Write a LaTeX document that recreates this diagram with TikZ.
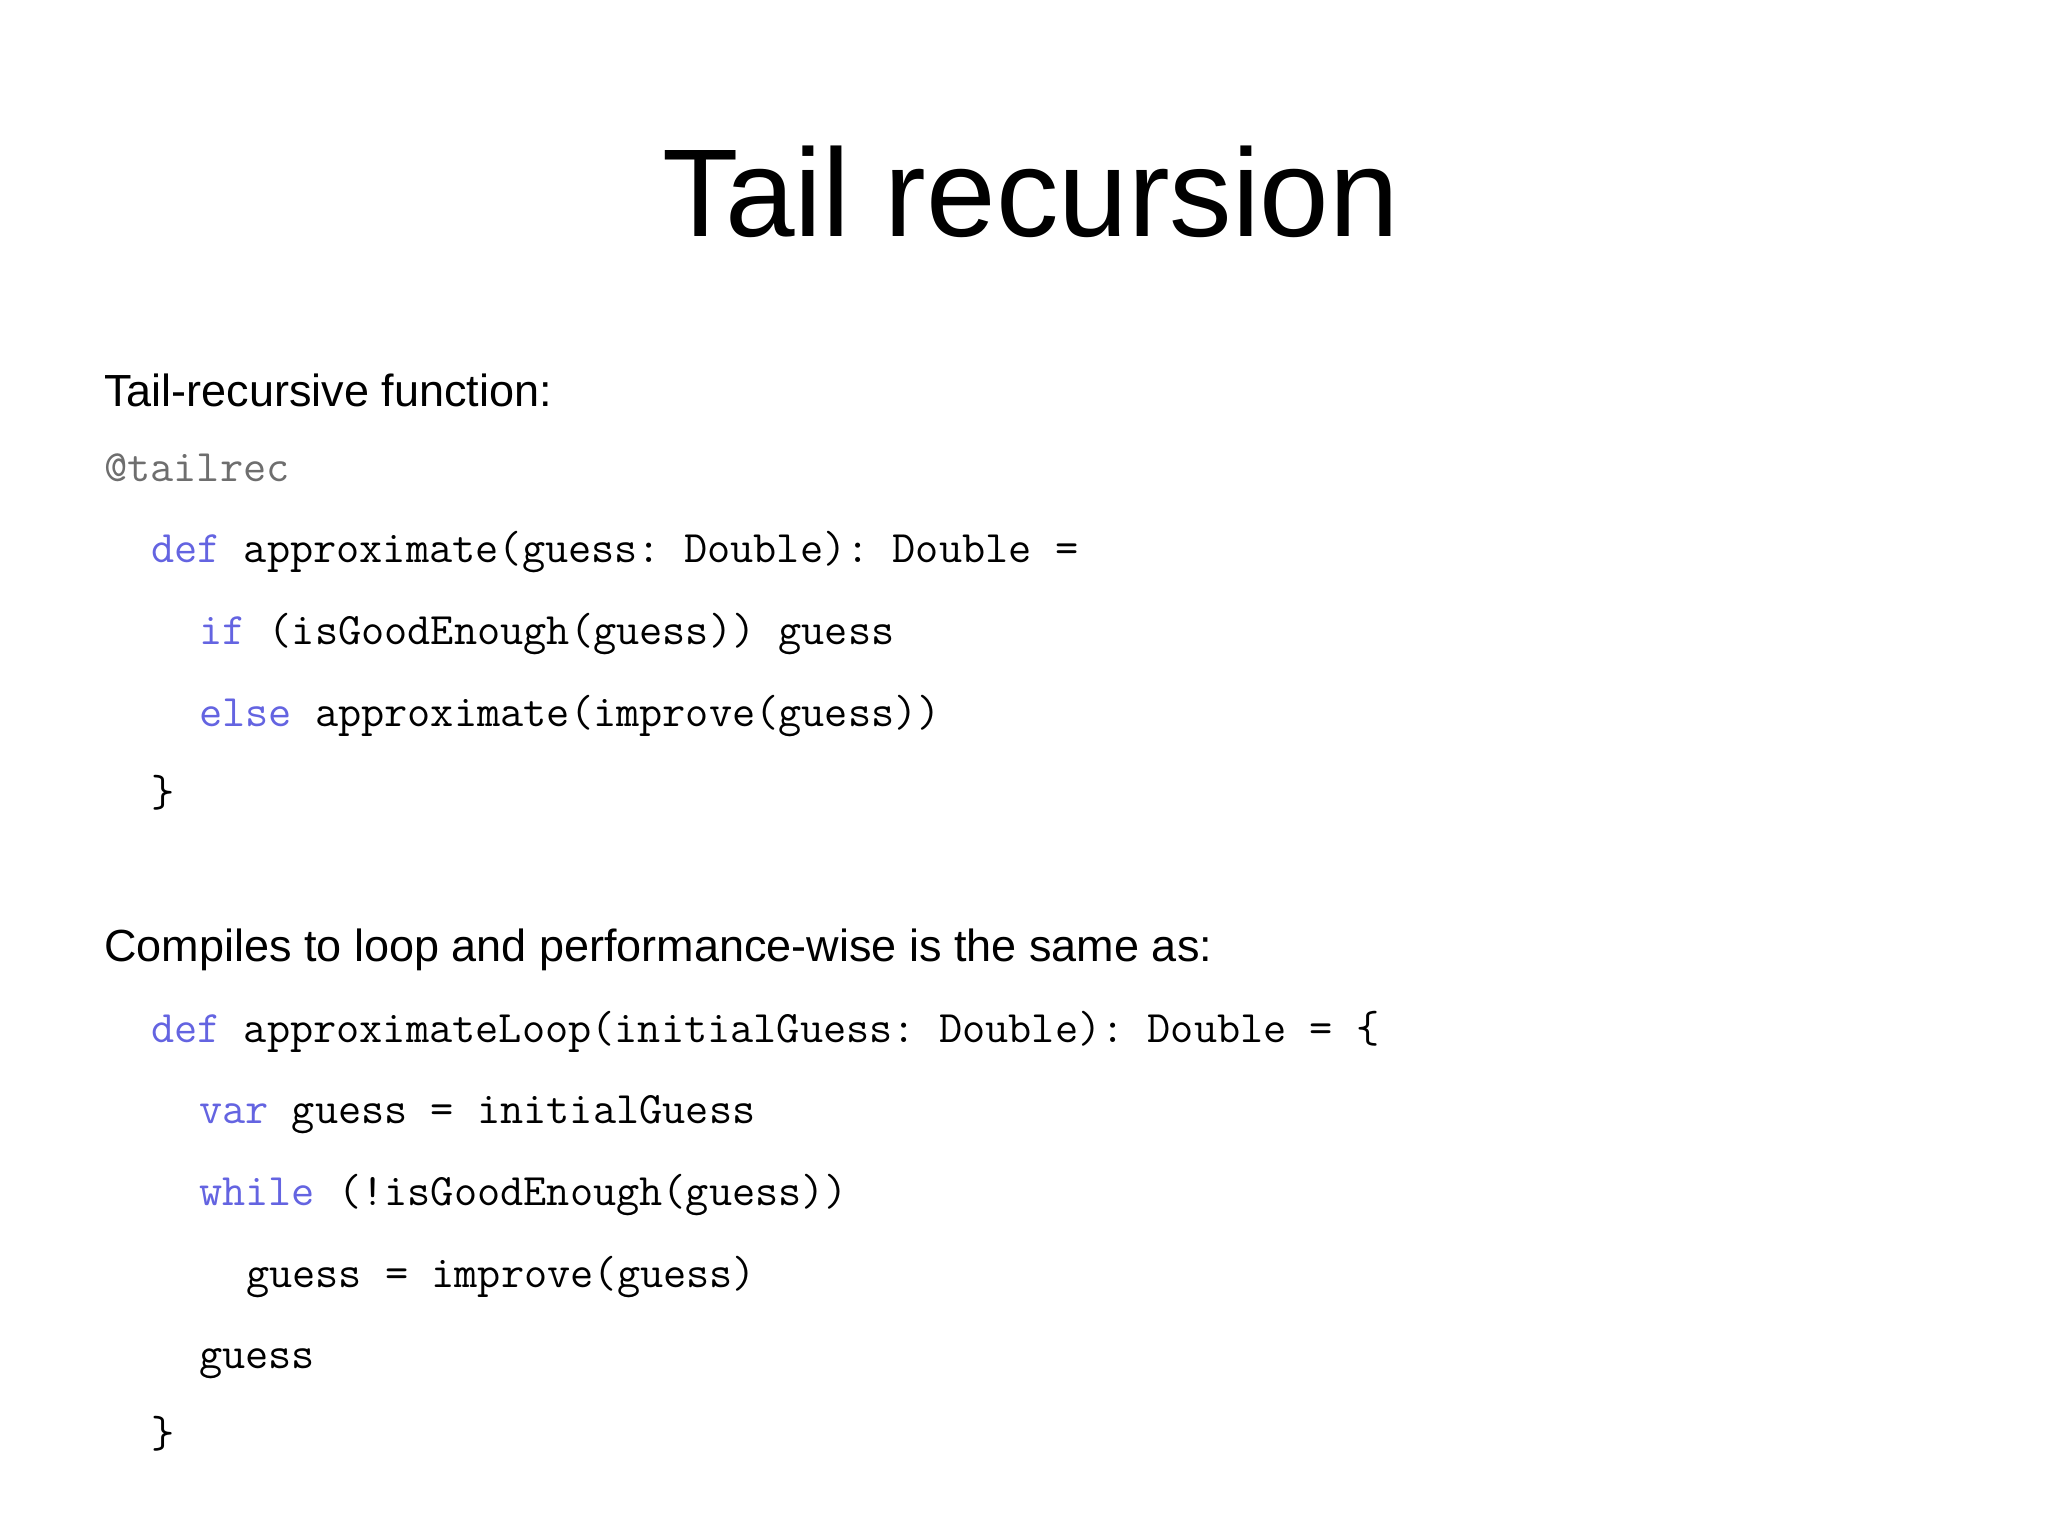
\documentclass[tikz,border=0pt]{standalone}
\usepackage{fontspec}
\setmainfont{Liberation Sans}
\setmonofont{Latin Modern Mono}
\definecolor{kw}{RGB}{100,100,225}
\definecolor{ann}{RGB}{110,110,110}
\begin{document}
\begin{tikzpicture}[x=1pt,y=-1pt,
  txt/.style={anchor=base west,inner sep=0,font=\fontsize{45}{54}\selectfont},
  code/.style={anchor=base west,inner sep=0,font=\fontsize{45}{54}\ttfamily}]
\useasboundingbox (0,0) rectangle (2048,1535);
\node[anchor=base,inner sep=0,font=\fontsize{125}{150}\selectfont] (title) at (1031,236) {Tail recursion};
\newcommand\kwd[1]{\textcolor{kw}{#1}}
\node[txt] (t1) at (104,406) {Tail-recursive function:};
\node[code,text=ann] (c1) at (104,481) {@tailrec};
\node[code] (c2) at (151,562) {\kwd{def} approximate(guess: Double): Double =};
\node[code] (c3) at (199,644) {\kwd{if} (isGoodEnough(guess)) guess};
\node[code] (c4) at (199,726) {\kwd{else} approximate(improve(guess))};
\node[code] (c5) at (151,806) {\}};
\node[txt] (t2) at (104,961) {Compiles to loop and performance-wise is the same as:};
\node[code] (d1) at (151,1042) {\kwd{def} approximateLoop(initialGuess: Double): Double = \{};
\node[code] (d2) at (199,1123) {\kwd{var} guess = initialGuess};
\node[code] (d3) at (199,1205) {\kwd{while} (!isGoodEnough(guess))};
\node[code] (d4) at (246,1287) {guess = improve(guess)};
\node[code] (d5) at (199,1368) {guess};
\node[code] (d6) at (151,1447) {\}};
\end{tikzpicture}
\end{document}
